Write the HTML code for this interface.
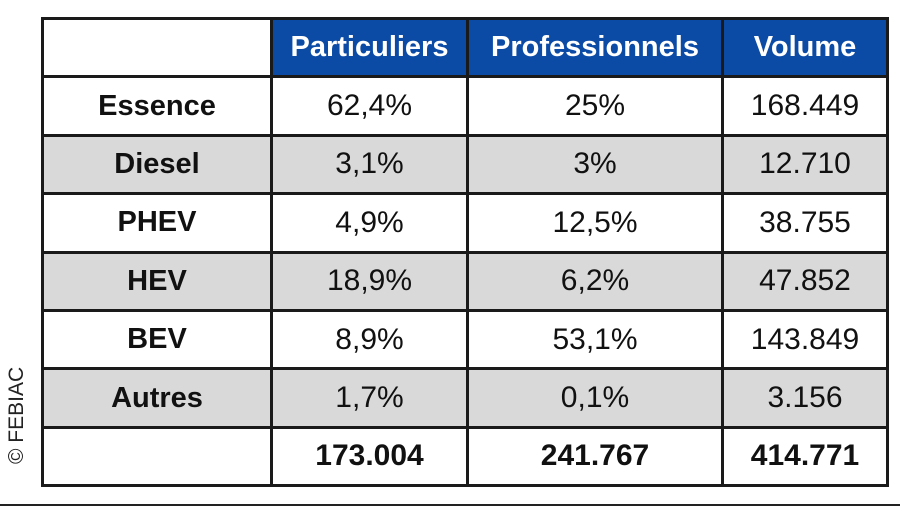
<!DOCTYPE html>
<html><head><style>
body{margin:0;width:900px;height:507px;background:#fff;position:relative;overflow:hidden;font-family:"Liberation Sans",sans-serif;}
table{position:absolute;left:41px;top:17px;border-collapse:collapse;}
td{border:3px solid #1a1a1a;text-align:center;font-size:30px;color:#111;padding:0;}
tr{height:58.4px}
th{border:3px solid #1a1a1a;background:#0b4ba6;color:#fff;font-size:29px;font-weight:bold;padding:0;}
.e{background:#fff;}
td.l{font-weight:bold;font-size:29px;}
tr.g td{background:#d9d9d9;}
.b{font-weight:bold;}
.c{position:absolute;left:5px;top:464px;transform:rotate(-90deg);transform-origin:0 0;font-size:21px;color:#222;white-space:nowrap;}
.line{position:absolute;left:0;top:504px;width:900px;height:2px;background:#222;}
</style></head><body>
<table>
<tr><th class="e" style="width:226px"></th><th style="width:193px">Particuliers</th><th style="width:252px">Professionnels</th><th style="width:162px">Volume</th></tr>
<tr><td class="l">Essence</td><td>62,4%</td><td>25%</td><td>168.449</td></tr>
<tr class="g"><td class="l">Diesel</td><td>3,1%</td><td>3%</td><td>12.710</td></tr>
<tr><td class="l">PHEV</td><td>4,9%</td><td>12,5%</td><td>38.755</td></tr>
<tr class="g"><td class="l">HEV</td><td>18,9%</td><td>6,2%</td><td>47.852</td></tr>
<tr><td class="l">BEV</td><td>8,9%</td><td>53,1%</td><td>143.849</td></tr>
<tr class="g"><td class="l">Autres</td><td>1,7%</td><td>0,1%</td><td>3.156</td></tr>
<tr><td></td><td class="b">173.004</td><td class="b">241.767</td><td class="b">414.771</td></tr>
</table>
<div class="c">© FEBIAC</div>
<div class="line"></div>
</body></html>
